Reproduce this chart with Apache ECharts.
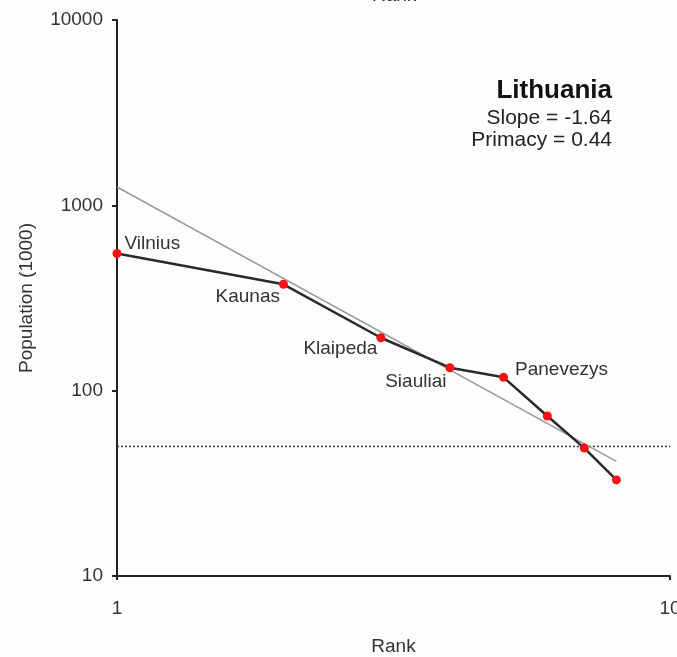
<!DOCTYPE html>
<html>
<head>
<meta charset="utf-8">
<script src="https://cdn.jsdelivr.net/npm/echarts@6/dist/echarts.min.js"></script>
<style>
  html, body { margin: 0; padding: 0; background: #fdfdfb; }
  #chart { width: 677px; height: 657px; }
</style>
</head>
<body>
<div id="chart"></div>
<script>
// Rank-size distribution of Lithuanian cities (log-log)
const ranks = [1, 2, 3, 4, 5, 6, 7, 8];
const population = [550, 375, 193, 133, 118, 73, 49, 33];
const cityNames = ['Vilnius', 'Kaunas', 'Klaipeda', 'Siauliai', 'Panevezys', '', '', ''];
// fitted rank-size line, end points
const fitRanks = [1, 8];
const fitPopulation = [1256, 41.5];
// threshold level
const thresholdRanks = [1, 10];
const thresholdValue = 50;

const countryName = 'Lithuania';
const slopeText = 'Slope = -1.64';
const primacyText = 'Primacy = 0.44';

const font = '"Liberation Sans", Arial, sans-serif';

// label placement for each named city
const labelPlacement = [
  { position: 'right', offset: [3, -10] },
  { position: 'left', offset: [1, 12] },
  { position: 'left', offset: [1, 11] },
  { position: 'left', offset: [1, 14] },
  { position: 'right', offset: [7, -8] },
  null, null, null
];

const cityData = ranks.map((r, i) => {
  const item = { value: [r, population[i]], name: cityNames[i] };
  const p = labelPlacement[i];
  if (p && cityNames[i]) {
    item.label = {
      show: true,
      formatter: '{b}',
      position: p.position,
      distance: 0,
      offset: p.offset,
      color: '#333',
      fontSize: 19,
      fontFamily: font
    };
  }
  return item;
});

const plainNumber = v => String(Math.round(v));

const chart = echarts.init(document.getElementById('chart'), null, { renderer: 'canvas' });
chart.setOption({
  backgroundColor: '#fdfdfb',
  animation: false,
  grid: { left: 117, right: 7, top: 20, bottom: 81, containLabel: false, outerBoundsMode: 'none' },
  xAxis: {
    type: 'log',
    logBase: 10,
    min: 1,
    max: 10,
    name: 'Rank',
    nameLocation: 'middle',
    nameGap: 61,
    nameTextStyle: { color: '#333', fontSize: 19, fontFamily: font },
    axisLine: { show: true, lineStyle: { color: '#222', width: 2 } },
    axisTick: { show: true, length: 4, lineStyle: { color: '#222', width: 2 } },
    minorTick: { show: false },
    axisLabel: { color: '#333', fontSize: 19, fontFamily: font, margin: 23, formatter: plainNumber },
    splitLine: { show: false }
  },
  yAxis: {
    type: 'log',
    logBase: 10,
    min: 10,
    max: 10000,
    name: 'Population (1000)',
    nameLocation: 'middle',
    nameGap: 81,
    nameTextStyle: { color: '#333', fontSize: 19, fontFamily: font },
    axisLine: { show: true, lineStyle: { color: '#222', width: 2 } },
    axisTick: { show: true, length: 5, lineStyle: { color: '#222', width: 2 } },
    minorTick: { show: false },
    axisLabel: { color: '#333', fontSize: 19, fontFamily: font, margin: 14, formatter: plainNumber },
    splitLine: { show: false }
  },
  graphic: [
    {
      type: 'text', left: 372, top: -14, silent: true,
      style: { text: 'Rank', fill: '#333', font: '19px ' + font }
    },
    {
      type: 'text', x: 612, y: 91, silent: true,
      style: { text: countryName, fill: '#111', align: 'right', verticalAlign: 'middle',
               textAlign: 'right', textVerticalAlign: 'middle', font: 'bold 26px ' + font }
    },
    {
      type: 'text', x: 612, y: 118, silent: true,
      style: { text: slopeText, fill: '#222', align: 'right', verticalAlign: 'middle',
               textAlign: 'right', textVerticalAlign: 'middle', font: '21px ' + font }
    },
    {
      type: 'text', x: 612, y: 140, silent: true,
      style: { text: primacyText, fill: '#222', align: 'right', verticalAlign: 'middle',
               textAlign: 'right', textVerticalAlign: 'middle', font: '21px ' + font }
    }
  ],
  series: [
    {
      name: 'threshold',
      type: 'line',
      data: thresholdRanks.map(r => [r, thresholdValue]),
      symbol: 'none',
      lineStyle: { color: '#333', width: 1.5, type: [2, 2] },
      z: 1
    },
    {
      name: 'fit',
      type: 'line',
      data: fitRanks.map((r, i) => [r, fitPopulation[i]]),
      symbol: 'none',
      lineStyle: { color: '#9a9a9a', width: 1.5 },
      z: 2
    },
    {
      name: 'cities',
      type: 'line',
      data: cityData,
      symbol: 'circle',
      symbolSize: 9,
      showAllSymbol: true,
      itemStyle: { color: '#ff1010' },
      lineStyle: { color: '#2a2a2a', width: 2.5 },
      label: { show: false },
      z: 3
    }
  ]
});
</script>
</body>
</html>
